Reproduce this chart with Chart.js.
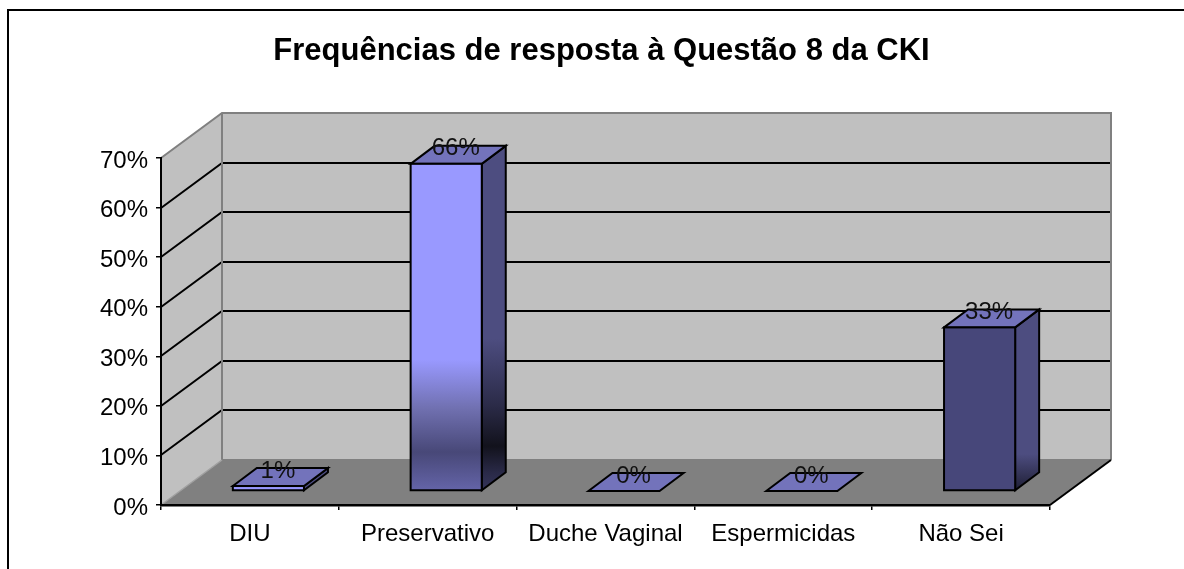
<!DOCTYPE html>
<html>
<head>
<meta charset="utf-8">
<style>html,body{margin:0;padding:0;background:#fff}canvas{display:block}</style>
<script src="https://cdn.jsdelivr.net/npm/chart.js@4"></script>
</head>
<body>
<canvas id="c" width="1184" height="569"></canvas>
<script>
const titleText = 'Frequências de resposta à Questão 8 da CKI';
const categories = ['DIU', 'Preservativo', 'Duche Vaginal', 'Espermicidas', 'Não Sei'];
const values = [1, 66, 0, 0, 33];
const yTicks = [0, 10, 20, 30, 40, 50, 60, 70];

// Styles (separate from the data)
const FONT = '"Liberation Sans", Arial, sans-serif';
const DEPTH_X = 61, DEPTH_Y = 45;           // full floor depth
const BAR_SHIFT_X = 18.5, BAR_SHIFT_Y = 14; // bar front-plane offset on the floor
const BAR_DX = 24, BAR_DY = 18;             // bar depth
const TITLE_CENTER = 601.5;
const frontFills = ['#9999ff', '#9999ff', '#9999ff', '#9999ff', '#47477a'];
const topFill = '#7373bb';
const sideFillTop = '#4d4d80';

const threeD = {
  id: 'threeD',
  beforeDraw(chart) {
    const {ctx} = chart, x = chart.scales.x, y = chart.scales.y;
    const L = x.left, R = x.right, B = y.bottom, T = y.top;
    ctx.save();
    ctx.fillStyle = '#fff';
    ctx.fillRect(0, 0, chart.width, chart.height);
    // frame
    ctx.strokeStyle = '#000'; ctx.lineWidth = 2;
    ctx.beginPath(); ctx.moveTo(8, 569); ctx.lineTo(8, 10); ctx.lineTo(1184, 10); ctx.stroke();
    // back + side wall
    ctx.fillStyle = '#c0c0c0';
    ctx.fillRect(L + DEPTH_X, T - DEPTH_Y, R - L, B - T);
    ctx.beginPath();
    ctx.moveTo(L, B); ctx.lineTo(L, T); ctx.lineTo(L + DEPTH_X, T - DEPTH_Y); ctx.lineTo(L + DEPTH_X, B - DEPTH_Y);
    ctx.closePath(); ctx.fill();
    // floor
    ctx.fillStyle = '#808080';
    ctx.beginPath();
    ctx.moveTo(L, B); ctx.lineTo(R, B); ctx.lineTo(R + DEPTH_X, B - DEPTH_Y); ctx.lineTo(L + DEPTH_X, B - DEPTH_Y);
    ctx.closePath(); ctx.fill();
    // gridlines
    ctx.strokeStyle = '#000'; ctx.lineWidth = 2;
    yTicks.forEach(v => {
      if (v === 0 || v === 70) return;
      const py = Math.round(y.getPixelForValue(v));
      ctx.beginPath();
      ctx.moveTo(L, py); ctx.lineTo(L + DEPTH_X, py - DEPTH_Y); ctx.lineTo(R + DEPTH_X, py - DEPTH_Y);
      ctx.stroke();
    });
    // wall borders
    ctx.strokeStyle = '#808080'; ctx.lineWidth = 2;
    ctx.beginPath();
    ctx.moveTo(L, T); ctx.lineTo(L + DEPTH_X, T - DEPTH_Y); ctx.lineTo(R + DEPTH_X, T - DEPTH_Y); ctx.lineTo(R + DEPTH_X, B - DEPTH_Y);
    ctx.moveTo(L + DEPTH_X, T - DEPTH_Y); ctx.lineTo(L + DEPTH_X, B - DEPTH_Y);
    ctx.moveTo(L + DEPTH_X, B - DEPTH_Y); ctx.lineTo(R + DEPTH_X, B - DEPTH_Y);
    ctx.stroke();
    ctx.strokeStyle = '#a0a0a0'; ctx.lineWidth = 1.5;
    ctx.beginPath(); ctx.moveTo(L, B); ctx.lineTo(L + DEPTH_X, B - DEPTH_Y); ctx.stroke();
    // floor front-right edge
    ctx.strokeStyle = '#000'; ctx.lineWidth = 2;
    ctx.beginPath(); ctx.moveTo(R, B); ctx.lineTo(R + DEPTH_X, B - DEPTH_Y); ctx.stroke();
    ctx.restore();
  },
  beforeDatasetDraw(chart, args) {
    const {ctx} = chart;
    const meta = chart.getDatasetMeta(args.index);
    ctx.save();
    ctx.lineJoin = 'miter';
    meta.data.forEach((el, i) => {
      const {x, y, base, width} = el.getProps(['x', 'y', 'base', 'width'], true);
      const l = x - width / 2 + BAR_SHIFT_X, r = x + width / 2 + BAR_SHIFT_X;
      const t = y - BAR_SHIFT_Y, b = base - BAR_SHIFT_Y;
      // front fill
      let frontFill = frontFills[i];
      if (i === 1) {
        const g = ctx.createLinearGradient(0, t, 0, b);
        g.addColorStop(0, '#9999ff'); g.addColorStop(0.6, '#9999ff');
        g.addColorStop(0.75, '#7070b0'); g.addColorStop(0.883, '#484878'); g.addColorStop(1, '#6464a8');
        frontFill = g;
      }
      // side fill
      let sideFill = sideFillTop;
      if (i === 1) {
        const g = ctx.createLinearGradient(0, t - BAR_DY, 0, b);
        g.addColorStop(0, sideFillTop); g.addColorStop(0.56, sideFillTop);
        g.addColorStop(0.753, '#2b2b48'); g.addColorStop(0.872, '#12121c');
        g.addColorStop(0.95, '#2a2a48'); g.addColorStop(1, '#34345a');
        sideFill = g;
      } else if (i === 4) {
        const g = ctx.createLinearGradient(0, t - BAR_DY, 0, b);
        g.addColorStop(0, sideFillTop); g.addColorStop(0.8, sideFillTop); g.addColorStop(1, '#1e1e34');
        sideFill = g;
      }
      ctx.strokeStyle = '#000';
      ctx.lineWidth = 2;
      // side face
      ctx.fillStyle = sideFill;
      ctx.beginPath();
      ctx.moveTo(r, t); ctx.lineTo(r + BAR_DX, t - BAR_DY); ctx.lineTo(r + BAR_DX, b - BAR_DY); ctx.lineTo(r, b);
      ctx.closePath();
      if (b - t > 0.5) { ctx.fill(); ctx.stroke(); }
      // top face
      ctx.fillStyle = topFill;
      ctx.beginPath();
      ctx.moveTo(l, t); ctx.lineTo(l + BAR_DX, t - BAR_DY); ctx.lineTo(r + BAR_DX, t - BAR_DY); ctx.lineTo(r, t);
      ctx.closePath(); ctx.fill(); ctx.stroke();
      // front face
      if (b - t > 0.5) {
        ctx.fillStyle = frontFill;
        ctx.fillRect(l, t, r - l, b - t);
        ctx.strokeRect(l, t, r - l, b - t);
      }
    });
    ctx.restore();
    return false;
  },
  afterDatasetsDraw(chart) {
    const {ctx} = chart;
    const meta = chart.getDatasetMeta(0);
    ctx.save();
    ctx.fillStyle = '#111';
    ctx.font = '24px ' + FONT;
    ctx.textAlign = 'center';
    ctx.textBaseline = 'middle';
    meta.data.forEach((el, i) => {
      ctx.fillText(values[i] + '%', el.x + 28, el.y - BAR_SHIFT_Y - BAR_DY + 3);
    });
    ctx.restore();
  },
  afterLayout(chart) {
    // the title is centred over the plot rather than the page
    const tb = chart.titleBlock;
    if (tb) { const d = TITLE_CENTER - (tb.left + tb.right) / 2; tb.left += d; tb.right += d; }
  }
};

new Chart(document.getElementById('c'), {
  type: 'bar',
  data: {
    labels: categories,
    datasets: [{
      data: values,
      backgroundColor: frontFills,
      borderColor: '#000',
      borderWidth: 2,
      barPercentage: 0.4,
      categoryPercentage: 1
    }]
  },
  plugins: [threeD],
  options: {
    responsive: false,
    animation: false,
    events: [],
    layout: {padding: {left: 0, right: 134, top: 0, bottom: 0}},
    plugins: {
      legend: {display: false},
      tooltip: {enabled: false},
      title: {
        display: true,
        text: titleText,
        color: '#000',
        font: {family: FONT, size: 31, weight: 'bold', lineHeight: 1.2},
        padding: {top: 32.6, bottom: 88.2}
      }
    },
    scales: {
      x: {
        type: 'category',
        offset: true,
        z: 1,
        border: {display: true, color: '#000', width: 2.5},
        grid: {offset: true, drawOnChartArea: false, drawTicks: true, tickLength: 5, color: '#000', lineWidth: 1.5},
        ticks: {color: '#000', font: {family: FONT, size: 24}, padding: 10, maxRotation: 0, autoSkip: false},
        afterFit(s) { s.height = 64; }
      },
      y: {
        min: 0,
        max: 70,
        z: 1,
        border: {display: true, color: '#000', width: 2},
        grid: {drawOnChartArea: false, drawTicks: true, tickLength: 5, color: '#000', lineWidth: 1.5},
        ticks: {color: '#000', stepSize: 10, font: {family: FONT, size: 24}, padding: 8, labelOffset: 3, callback: v => v + '%'},
        afterFit(s) { s.width = 161; }
      }
    }
  }
});
</script>
</body>
</html>
